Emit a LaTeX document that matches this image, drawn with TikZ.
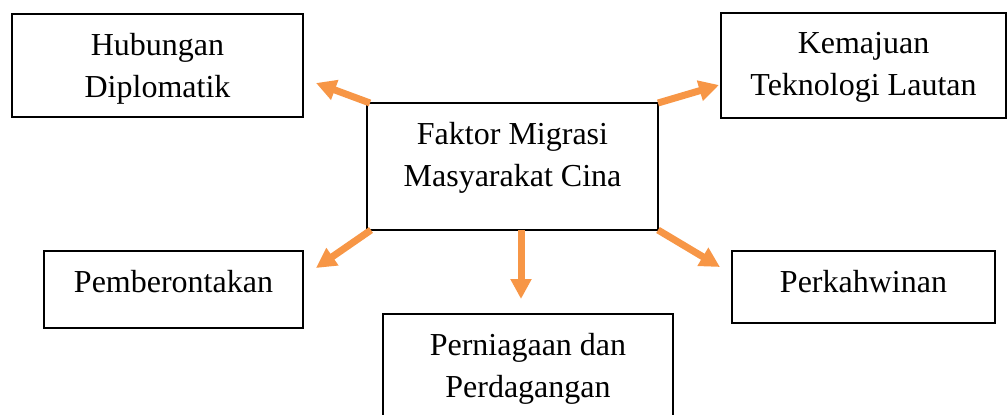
\documentclass[tikz,border=0pt]{standalone}
\usepackage{fontspec}
\setmainfont{Liberation Serif}
\usetikzlibrary{arrows.meta, positioning}
\definecolor{arrowOrange}{HTML}{F79646}

\begin{document}
\begin{tikzpicture}[
  x=0.5pt, y=-0.5pt,
  box/.style = {draw, line width=0.9pt, inner sep=0pt, outer sep=0pt,
                anchor=north west},
  lbl/.style = {anchor=north, align=center, inner sep=0pt,
                font=\fontsize{16}{21}\selectfont, yshift=-9.6pt},
  arr/.style = {draw=arrowOrange, line width=3.5pt,
                -{Triangle[width=10pt,length=10pt]}} ]
  \useasboundingbox (0,0) rectangle (1008,414);
  % the boxes
  \node [box, minimum width=145.5pt, minimum height=51.5pt] (diplo) at (12,14) {};
  \node [box, minimum width=142.5pt, minimum height=52.5pt] (tekno) at (721,13) {};
  \node [box, minimum width=145.5pt, minimum height=63.5pt] (faktor) at (367,103) {};
  \node [box, minimum width=129.5pt, minimum height=38.5pt] (berontak) at (44,251) {};
  \node [box, minimum width=145pt, minimum height=60pt] (niaga) at (383,314) {};
  \node [box, minimum width=131.5pt, minimum height=36pt] (kahwin) at (732,251) {};
  % their texts
  \node [lbl] (diplo-t) at (diplo.north) {Hubungan\\Diplomatik};
  \node [lbl] (tekno-t) at (tekno.north) {Kemajuan\\Teknologi Lautan};
  \node [lbl] (faktor-t) at (faktor.north) {Faktor Migrasi\\Masyarakat Cina};
  \node [lbl] (berontak-t) at (berontak.north) {Pemberontakan};
  \node [lbl] (niaga-t) at (niaga.north) {Perniagaan dan\\Perdagangan};
  \node [lbl] (kahwin-t) at (kahwin.north) {Perkahwinan};
  % free ends of the arrows
  \coordinate (tip-diplo) at (316,83);
  \coordinate (tip-tekno) at (719,85);
  \coordinate (tip-berontak) at (316,268);
  \coordinate (tip-niaga) at (521,299);
  \coordinate (tip-kahwin) at (720,267);
  \draw [arr] ([xshift=1.5pt]faktor.north west) -- (tip-diplo);
  \draw [arr] (faktor.north east) -- (tip-tekno);
  \draw [arr] ([xshift=2pt]faktor.south west) -- (tip-berontak);
  \draw [arr] ([xshift=4.25pt]faktor.south) -- (tip-niaga);
  \draw [arr] (faktor.south east) -- (tip-kahwin);
\end{tikzpicture}
\end{document}
